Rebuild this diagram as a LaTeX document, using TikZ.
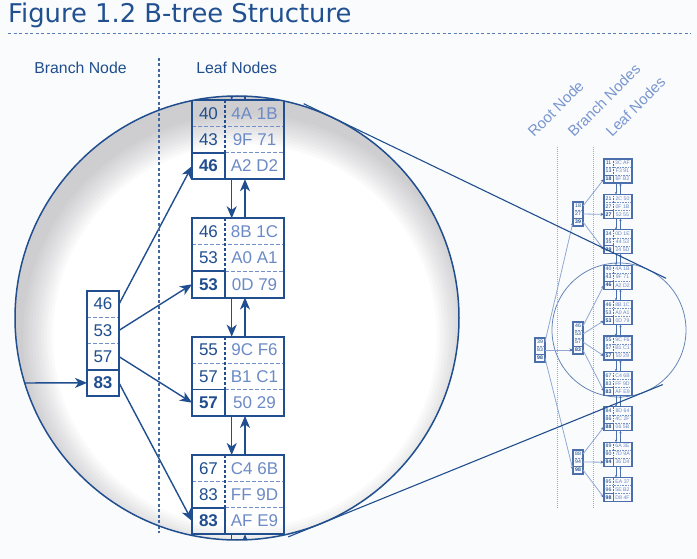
\documentclass[tikz,border=0pt]{standalone}
\usepackage{fontspec}
\setmainfont{Liberation Sans}
\newfontfamily\titlefont{DejaVu Sans}
\usetikzlibrary{arrows.meta,calc}
\definecolor{bgc}{RGB}{250,251,252}
\definecolor{titleblue}{RGB}{33,80,145}
\definecolor{dkblue}{RGB}{32,78,142}
\definecolor{ltblue}{RGB}{108,138,198}
\definecolor{sepblue}{RGB}{115,145,200}
\definecolor{minbox}{RGB}{75,110,172}
\definecolor{minline}{RGB}{145,168,212}
\definecolor{labblue}{RGB}{120,150,208}
\definecolor{guideblue}{RGB}{150,170,205}
\definecolor{shadowc}{RGB}{60,62,70}
\tikzset{
  kcell/.style={inner sep=0pt, outer sep=0pt, minimum width=\kw pt, minimum height=\rh pt, text=dkblue, font=\fontsize{17}{17}\selectfont},
  dcell/.style={inner sep=0pt, outer sep=0pt, minimum width=\dw pt, minimum height=\rh pt, text=ltblue, font=\fontsize{17}{17}\selectfont},
  bcell/.style={inner sep=0pt, outer sep=0pt, minimum width=\bw pt, minimum height=\brh pt, text=dkblue, font=\fontsize{17}{17}\selectfont},
  lastkey/.style={execute at begin node=\bfseries},
  rowsep/.style={draw=sepblue, line width=1pt, dash pattern=on 3.5pt off 2.5pt},
  colsep/.style={draw=dkblue, line width=1.3pt, dash pattern=on 3pt off 2pt},
  cellline/.style={draw=dkblue, line width=1.6pt},
  boxnode/.style={draw=dkblue, line width=2pt, anchor=north west, inner sep=0pt, outer sep=0pt, minimum width=\lw pt, minimum height=\lh pt},
  bbox/.style={draw=dkblue, line width=2pt, anchor=north west, inner sep=0pt, outer sep=0pt, minimum width=\bw pt},
  bigarrow/.style={draw=dkblue, line width=1.4pt, -{Stealth[length=12pt,width=10pt,inset=3.5pt]}},
  titlerule/.style={draw=sepblue!70!dkblue, line width=0.9pt, dash pattern=on 3pt off 2.5pt},
  vguide/.style={draw=dkblue!85, line width=1.1pt, dash pattern=on 3pt off 2.5pt},
  miniguide/.style={draw=guideblue, line width=0.6pt, dash pattern=on 1pt off 1pt},
  smallcirc/.style={draw=minbox!85, line width=0.8pt},
  tanline/.style={draw=dkblue, line width=1.1pt},
  bigcirc/.style={draw=dkblue, line width=1.5pt},
  vignette/.style={fill=shadowc, fill opacity=0.023, even odd rule},
  collabel/.style={anchor=base, inner sep=0pt, text=dkblue, font=\fontsize{15.8}{16}\selectfont},
  rotlab/.style={rotate=45, anchor=base west, inner sep=0pt, text=labblue, font=\fontsize{15}{15}\selectfont},
  miniarrow/.style={draw=minline, line width=0.8pt, -{Stealth[length=3.5pt,width=3pt,color=minbox]}},
  minichain/.style={draw=minbox, line width=0.6pt, -{Stealth[length=2.5pt,width=2.2pt]}},
  pics/leaf/.style n args={6}{code={
    \node[kcell] (-k1) at ({\kw/2},{\rh/2}) {#1};
    \node[dcell] (-d1) at ({\kw+\dw/2},{\rh/2}) {#2};
    \node[kcell] (-k2) at ({\kw/2},{1.5*\rh}) {#3};
    \node[dcell] (-d2) at ({\kw+\dw/2},{1.5*\rh}) {#4};
    \node[kcell,lastkey] (-k3) at ({\kw/2},{2.5*\rh}) {#5};
    \node[dcell] (-d3) at ({\kw+\dw/2},{2.5*\rh}) {#6};
    \draw[rowsep] (0,\rh) -- (\lw,\rh) (\kw,{2*\rh}) -- (\lw,{2*\rh});
    \draw[colsep] (\kw,0) -- (\kw,{2*\rh});
    \draw[cellline] (0,{2*\rh}) -- (\kw,{2*\rh}) -- (\kw,\lh);
    \node[boxnode] (-box) at (0,0) {};
    \coordinate (-tdn) at (\dnx,0);
    \coordinate (-bdn) at (\dnx,\lh);
    \coordinate (-tup) at (\upx,0);
    \coordinate (-bup) at (\upx,\lh);
  }},
  pics/branch/.style 2 args={code={
    \foreach \k [count=\i] in {#1} {
      \node[bcell] (-r\i) at ({\bw/2},{(\i-0.5)*\brh}) {\k};
      \xdef\nrows{\i}
    }
    \pgfmathtruncatemacro\lastrow{\nrows+1}
    \node[bcell,lastkey] (-r\lastrow) at ({\bw/2},{(\nrows+0.5)*\brh}) {#2};
    \foreach \j in {2,...,\nrows} {\draw[rowsep] (0,{(\j-1)*\brh}) -- (\bw,{(\j-1)*\brh});}
    \draw[cellline] (0,{\nrows*\brh}) -- (\bw,{\nrows*\brh});
    \node[bbox, minimum height={(\nrows+1)*\brh*1pt}] (-box) at (0,0) {};
  }}
}
\begin{document}
\begin{tikzpicture}[x=1pt,y=-1pt]
\useasboundingbox[fill=bgc] (0,0) rectangle (697,559);

% title and column labels
\node[anchor=base west, inner sep=0pt, text=titleblue, font=\titlefont\fontsize{25.8}{30}\selectfont] (title) at (8,22.7) {Figure 1.2 B-tree Structure};
\coordinate (ruleA) at (8,33.3);
\coordinate (ruleB) at (691,33.3);
\draw[titlerule] (ruleA) -- (ruleB);
\node[collabel] (lbranch) at (80.5,74) {Branch Node};
\node[collabel] (lleaf) at (236.7,74) {Leaf Nodes};

% ---------- magnified view ----------
\def\kw{33}\def\dw{59}\def\rh{26.4}\def\lw{92}\def\lh{79.2}\def\dnx{39.7}\def\upx{53}\def\bw{32}\def\brh{26.25}
\fill[white] (237,318) circle (222);
\begin{scope}
  \clip (237,318) circle (222);
  \foreach \r in {192,195,...,222} {
    \fill[vignette] (237,318) circle (260) (245,336) circle (\r);
  }
  \pic (L4) at (192,100) {leaf={40}{4A 1B}{43}{9F 71}{46}{A2 D2}};
  \pic (L5) at (192,218.3) {leaf={46}{8B 1C}{53}{A0 A1}{53}{0D 79}};
  \pic (L6) at (192,336.7) {leaf={55}{9C F6}{57}{B1 C1}{57}{50 29}};
  \pic (L7) at (192,455) {leaf={67}{C4 6B}{83}{FF 9D}{83}{AF E9}};
  \pic (B2) at (87,291) {branch={46,53,57}{83}};
  \coordinate (bin) at (0,383);
  \coordinate (ta) at (231.7,70);
  \coordinate (tb) at (245,70);
  \coordinate (ba) at (231.7,575);
  \coordinate (bb) at (245,575);
  \draw[bigarrow] (bin) -- (B2-r4.west);
  \draw[bigarrow] (B2-r1.east) -- (L4-k3.west);
  \draw[bigarrow] (B2-r2.east) -- (L5-k3.west);
  \draw[bigarrow] (B2-r3.east) -- (L6-k3.west);
  \draw[bigarrow] (B2-r4.east) -- (L7-k3.west);
  \draw[bigarrow] (L4-bdn) -- (L5-tdn);
  \draw[bigarrow] (L5-tup) -- (L4-bup);
  \draw[bigarrow] (L5-bdn) -- (L6-tdn);
  \draw[bigarrow] (L6-tup) -- (L5-bup);
  \draw[bigarrow] (L6-bdn) -- (L7-tdn);
  \draw[bigarrow] (L7-tup) -- (L6-bup);
  \draw[bigarrow] (ta) -- (L4-tdn);
  \draw[bigarrow] (L4-tup) -- (tb);
  \draw[bigarrow] (L7-bdn) -- (ba);
  \draw[bigarrow] (bb) -- (L7-bup);
\end{scope}
\coordinate (vgA) at (159,58);
\coordinate (vgB) at (159,533);
\draw[vguide] (vgA) -- (vgB);
\draw[bigcirc] (237,318) circle (222);

% ---------- small overview ----------
\draw[smallcirc] (619,330) circle (67);
\coordinate (g1a) at (557,147); \coordinate (g1b) at (557,508);
\coordinate (g2a) at (593,147); \coordinate (g2b) at (593,508);
\draw[miniguide] (g1a) -- (g1b);
\draw[miniguide] (g2a) -- (g2b);
\node[rotlab] (rlroot) at (534,138) {Root Node};
\node[rotlab] (rlbranch) at (574,138) {Branch Nodes};
\node[rotlab] (rlleaf) at (612,138) {Leaf Nodes};

\begin{scope}[
  kcell/.style={inner sep=0pt, outer sep=0pt, minimum width=\kw pt, minimum height=\rh pt, text=dkblue, font=\fontsize{5.2}{5.2}\selectfont},
  dcell/.style={inner sep=0pt, outer sep=0pt, minimum width=\dw pt, minimum height=\rh pt, text=ltblue, font=\fontsize{5.2}{5.2}\selectfont},
  bcell/.style={inner sep=0pt, outer sep=0pt, minimum width=\bw pt, minimum height=\brh pt, text=dkblue, font=\fontsize{5.2}{5.2}\selectfont},
  rowsep/.style={draw=sepblue, line width=0.4pt, dash pattern=on 0.8pt off 0.8pt},
  colsep/.style={draw=minbox, line width=0.4pt, dash pattern=on 0.8pt off 0.8pt},
  cellline/.style={draw=minbox, line width=0.6pt},
  boxnode/.style={draw=minbox, line width=1.1pt, anchor=north west, inner sep=0pt, outer sep=0pt, minimum width=\lw pt, minimum height=\lh pt},
  bbox/.style={draw=minbox, line width=1.1pt, anchor=north west, inner sep=0pt, outer sep=0pt, minimum width=\bw pt}]
  \def\kw{9}\def\dw{19}\def\rh{8}\def\lw{28}\def\lh{24}\def\dnx{12}\def\upx{16.5}\def\bw{10}\def\brh{8}
  \pic (mR) at (535,338) {branch={39,83}{98}};
  \pic (mB1) at (573,202) {branch={18,27}{39}};
  \pic (mB2) at (573,322) {branch={46,53,57}{83}};
  \pic (mB3) at (573,450) {branch={88,94}{98}};
  \pic (mL1) at (604,159) {leaf={11}{3C AF}{13}{F3 91}{18}{6F B2}};
  \pic (mL2) at (604,194.4) {leaf={21}{2C 50}{27}{0F 1B}{27}{52 55}};
  \pic (mL3) at (604,229.8) {leaf={34}{0D 1E}{35}{44 53}{39}{24 5D}};
  \pic (mL4) at (604,265.2) {leaf={40}{4A 1B}{43}{9F 71}{46}{A2 D2}};
  \pic (mL5) at (604,300.6) {leaf={46}{8B 1C}{53}{A0 A1}{53}{0D 79}};
  \pic (mL6) at (604,336) {leaf={55}{9C F6}{57}{B1 C1}{57}{50 29}};
  \pic (mL7) at (604,371.4) {leaf={67}{C4 6B}{83}{FF 9D}{83}{AF E9}};
  \pic (mL8) at (604,406.8) {leaf={84}{8D 64}{86}{4C 2F}{88}{06 5B}};
  \pic (mL9) at (604,442.2) {leaf={89}{6A 3E}{90}{7D 9A}{94}{36 D4}};
  \pic (mL10) at (604,477.6) {leaf={95}{EA 37}{96}{5E B2}{98}{D8 4F}};
  \draw[miniarrow] (mR-r1.east) -- (mB1-r3.west);
  \draw[miniarrow] (mR-r2.east) -- (mB2-r4.west);
  \draw[miniarrow] (mR-r3.east) -- (mB3-r3.west);
  \foreach \r/\l in {1/1,2/2,3/3} {\draw[miniarrow] (mB1-r\r.east) -- (mL\l-k3.west);}
  \foreach \r/\l in {1/4,2/5,3/6,4/7} {\draw[miniarrow] (mB2-r\r.east) -- (mL\l-k3.west);}
  \foreach \r/\l in {1/8,2/9,3/10} {\draw[miniarrow] (mB3-r\r.east) -- (mL\l-k3.west);}
  \foreach \i in {1,...,9} {
    \pgfmathtruncatemacro\j{\i+1}
    \draw[minichain] (mL\i-bdn) -- (mL\j-tdn);
    \draw[minichain] (mL\j-tup) -- (mL\i-bup);
  }
\end{scope}

% tangent lines linking the two circles
\coordinate (ua) at (303.7,103.7);
\coordinate (ub) at (666.1,278.3);
\coordinate (la) at (288.2,536.9);
\coordinate (lb) at (662.7,384.6);
\draw[tanline] (ua) -- (ub);
\draw[tanline] (la) -- (lb);
\end{tikzpicture}
\end{document}
